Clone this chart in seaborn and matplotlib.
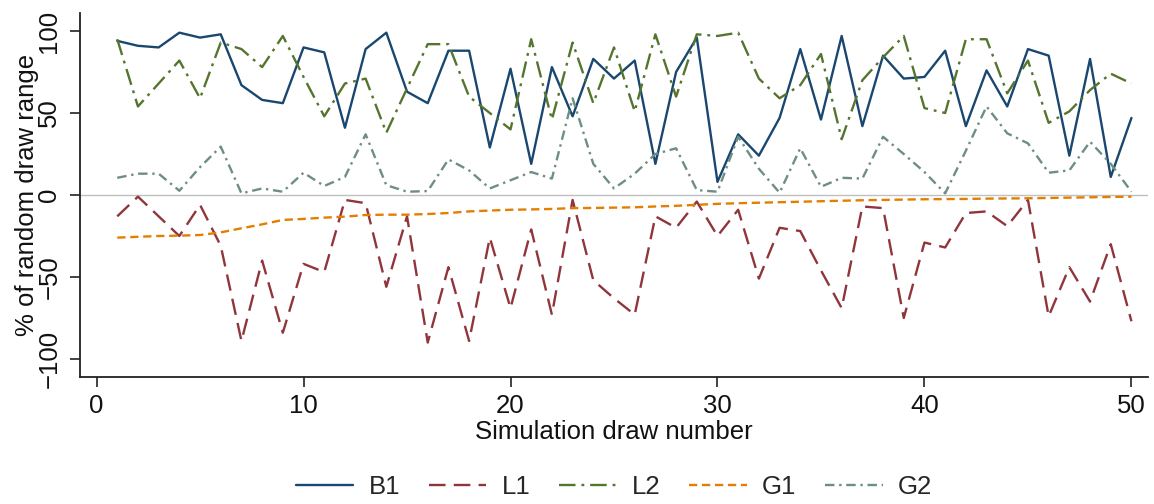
import matplotlib
matplotlib.use("Agg")
import matplotlib.pyplot as plt
import seaborn as sns
import numpy as np
import pandas as pd

draws = list(range(1, 51))
B1 = [94, 91, 90, 99, 96, 98, 67, 58, 56, 90,
      87, 41, 89, 99, 63, 56, 88, 88, 29, 77,
      19, 78, 48, 83, 71, 82, 19, 75, 96, 8,
      37, 24, 47, 89, 46, 97, 42, 85, 71, 72,
      88, 42, 76, 54, 89, 85, 24, 83, 11, 47]
L1 = [-13, -1, -13, -25, -6, -31, -89, -40, -84, -42,
      -47, -3, -5, -56, -13, -90, -44, -89, -26, -69,
      -21, -73, -3, -52, -63, -73, -13, -20, -4, -25,
      -9, -51, -20, -22, -46, -69, -7, -8, -75, -29,
      -32, -11, -10, -19, -3, -74, -44, -65, -30, -77]
L2 = [95, 54, 68, 82, 59, 93, 89, 78, 97, 72,
      48, 68, 71, 38, 65, 92, 92, 60, 50, 40,
      95, 46, 93, 56, 90, 51, 98, 60, 98, 97,
      99, 71, 59, 67, 86, 34, 70, 84, 97, 53,
      50, 95, 95, 62, 82, 44, 51, 64, 74, 68]
G1 = [-26, -25.5, -25, -24.8, -24.4, -22.8, -20.3, -17.9, -15.2, -14.6,
      -13.8, -13.2, -12.2, -12, -12, -11.6, -11, -10, -9.5, -9,
      -8.8, -8.5, -8, -7.9, -7.7, -7.5, -7, -6.6, -6, -5.4,
      -5, -4.7, -4.4, -4.1, -3.8, -3.5, -3.2, -3, -2.8, -2.6,
      -2.5, -2.4, -2.2, -2.1, -2, -1.8, -1.6, -1.4, -1.2, -1]
G2 = [10.5, 13, 13, 2.6, 17, 29.5, 1, 4, 2, 13.6,
      5.5, 11, 37, 6, 2, 2.4, 21.7, 15, 4, 9,
      14, 10, 59, 19, 4, 13, 25, 28.5, 3, 2,
      35.5, 16, 1.4, 28.5, 5, 10.5, 10, 35.5, 25, 14,
      1, 27, 54, 37.6, 31.5, 13.6, 15, 32.5, 19, 2]

series_names = ["B1", "L1", "L2", "G1", "G2"]
series_values = [B1, L1, L2, G1, G2]
colors = ["#1a476f", "#90353b", "#55752f", "#e37e00", "#6e8e84"]
styles = ["-", (0, (7, 3.5)), (0, (7, 2.5, 1.2, 2.5)), (0, (3.5, 2)), (0, (4, 2, 1, 2))]

sns.set_theme(style="white")
plt.rcParams["font.family"] = ["Liberation Sans", "DejaVu Sans"]

FS = 18.5
fig = plt.figure(figsize=(11.54, 5.04), dpi=100)
ax = fig.add_axes([80 / 1154, 1 - 377 / 504, (1148 - 80) / 1154, (377 - 13) / 504])

ax.axhline(0, color="#c0c0c0", lw=1.0, zorder=1)

for name, vals, c, ls in zip(series_names, series_values, colors, styles):
    df = pd.DataFrame({"draw": draws, "val": vals})
    sns.lineplot(data=df, x="draw", y="val", ax=ax, color=c, linestyle=ls,
                 linewidth=1.7, label=name, zorder=3)

ax.set_xlim(-0.8, 50.8)
ax.set_ylim(-111, 111)
ax.set_xticks([0, 10, 20, 30, 40, 50])
ax.set_yticks([-100, -50, 0, 50, 100])
ax.tick_params(axis="both", which="both", direction="out", length=7.5, width=1.2,
               color="#222222", labelsize=FS, labelcolor="#111111",
               bottom=True, left=True)
ax.tick_params(axis="x", pad=5)
ax.tick_params(axis="y", pad=6)
for lab in ax.get_yticklabels():
    lab.set_rotation(90)
    lab.set_va("center")

for s in ["top", "right"]:
    ax.spines[s].set_visible(False)
for s in ["left", "bottom"]:
    ax.spines[s].set_color("#222222")
    ax.spines[s].set_linewidth(1.3)

ax.set_xlabel("Simulation draw number", fontsize=FS, color="#111111", labelpad=1)
ax.set_ylabel("% of random draw range", fontsize=FS, color="#111111", labelpad=-1)
ax.grid(False)

handles, labels = ax.get_legend_handles_labels()
ax.get_legend().remove()
fig.legend(handles, labels, loc="center", bbox_to_anchor=((80 + 1148) / 2 / 1154, 1 - 487 / 504),
           ncol=5, frameon=False, fontsize=FS, handlelength=2.25,
           handletextpad=0.6, columnspacing=1.1)

fig.savefig("out.png", dpi=100, facecolor="white")
